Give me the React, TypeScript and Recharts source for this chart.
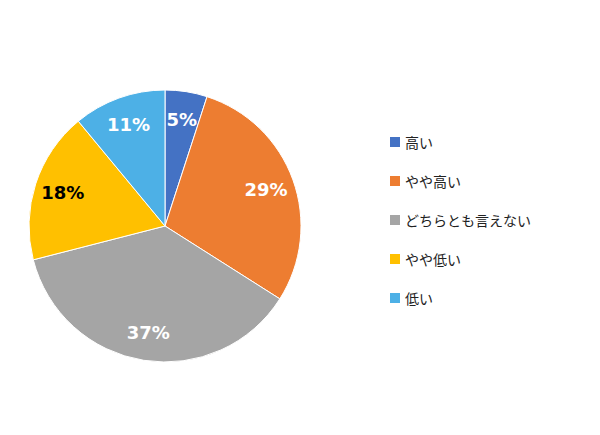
import React from "react";
import { PieChart, Pie, Cell, Legend } from "recharts";

const categories = ["高い", "やや高い", "どちらとも言えない", "やや低い", "低い"];
const values = [5, 29, 37, 18, 11];
const colors = ["#4472C4", "#ED7D31", "#A5A5A5", "#FFC000", "#4DB0E6"];
const labelColors = ["#FFFFFF", "#FFFFFF", "#FFFFFF", "#000000", "#FFFFFF"];

const data = categories.map((name, i) => ({ name, value: values[i] }));

const RAD = Math.PI / 180;

const renderLabel = (props: any) => {
  const { cx, cy, midAngle, outerRadius, index, value } = props;
  const r = outerRadius * 0.79;
  const x = cx + r * Math.cos(-midAngle * RAD);
  const y = cy + r * Math.sin(-midAngle * RAD);
  return (
    <text
      x={x}
      y={y}
      fill={labelColors[index]}
      textAnchor="middle"
      dominantBaseline="central"
      fontFamily="DejaVu Sans"
      fontWeight="bold"
      fontSize={18}
    >
      {`${value}%`}
    </text>
  );
};

const renderLegend = () => (
  <div style={{ fontFamily: "'Noto Sans CJK JP', sans-serif", fontSize: 14, color: "#222" }}>
    {categories.map((c, i) => (
      <div key={c} style={{ display: "flex", alignItems: "center", height: 39 }}>
        <span
          style={{
            display: "inline-block",
            width: 10,
            height: 10,
            background: colors[i],
            marginRight: 5,
          }}
        />
        <span>{c}</span>
      </div>
    ))}
  </div>
);

export default function App() {
  return (
    <PieChart width={600} height={435} margin={{ top: 0, right: 0, bottom: 0, left: 0 }}>
      <Pie
        data={data}
        dataKey="value"
        nameKey="name"
        cx={157}
        cy={218}
        outerRadius={136}
        startAngle={90}
        endAngle={-270}
        stroke="#FFFFFF"
        strokeWidth={1}
        labelLine={false}
        label={renderLabel}
        isAnimationActive={false}
      >
        {data.map((d, i) => (
          <Cell key={d.name} fill={colors[i]} />
        ))}
      </Pie>
      <Legend
        content={renderLegend}
        wrapperStyle={{ left: 382, top: 114, width: 200 }}
      />
    </PieChart>
  );
}
